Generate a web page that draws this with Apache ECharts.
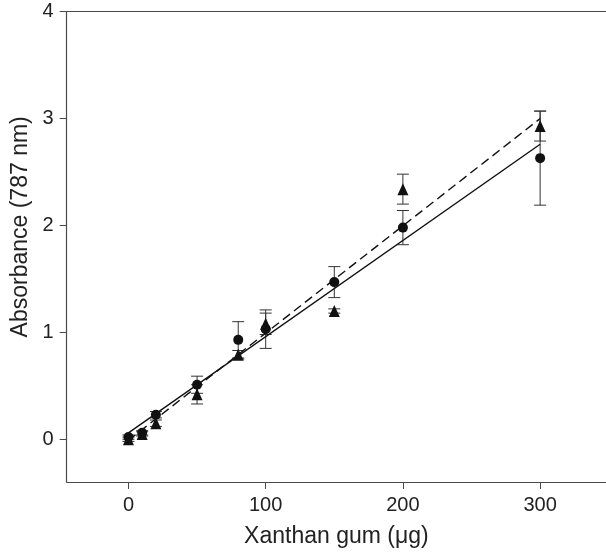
<!DOCTYPE html>
<html>
<head>
<meta charset="utf-8">
<script src="https://cdn.jsdelivr.net/npm/echarts@6/dist/echarts.min.js"></script>
<style>
html,body{margin:0;padding:0;background:#fff;}
#chart{width:606px;height:553px;}
</style>
</head>
<body>
<div id="chart"></div>
<script>
// ---- data ----
const xVals = [0, 10, 20, 50, 80, 100, 150, 200, 300];
const circleMean = [0.02, 0.06, 0.23, 0.51, 0.93, 1.03, 1.47, 1.98, 2.63];
const circleErr  = [0.02, 0.02, 0.03, 0.08, 0.17, 0.18, 0.145, 0.16, 0.44];
const triMean    = [0.00, 0.05, 0.15, 0.42, 0.79, 1.08, 1.20, 2.34, 2.93];
const triErr     = [0.02, 0.02, 0.03, 0.09, 0.04, 0.10, 0.02, 0.14, 0.14];
const fitX = [0, 300];
const solidFit = [0.06, 2.76];
const dashedFit = [-0.01, 3.0];
const xTicks = [0, 100, 200, 300];
const yTicks = [0, 1, 2, 3, 4];

const FONT = 'Liberation Sans, Arial, Helvetica, sans-serif';
const TXT = '#222';
const AX = '#4a4a4a';

function pts(xs, ys){ return xs.map((x,i)=>[x, ys[i]]); }
function errData(xs, m, e){ return xs.map((x,i)=>[x, m[i]-e[i], m[i]+e[i]]); }

function errRender(params, api){
  const x = api.value(0), lo = api.value(1), hi = api.value(2);
  const a = api.coord([x, lo]), b = api.coord([x, hi]);
  const cw = 6;
  const st = {stroke:'#333', lineWidth:1};
  return {type:'group', children:[
    {type:'line', shape:{x1:a[0], y1:a[1], x2:b[0], y2:b[1]}, style:st},
    {type:'line', shape:{x1:a[0]-cw, y1:a[1], x2:a[0]+cw, y2:a[1]}, style:st},
    {type:'line', shape:{x1:b[0]-cw, y1:b[1], x2:b[0]+cw, y2:b[1]}, style:st}
  ]};
}

const chart = echarts.init(document.getElementById('chart'), null, {renderer:'canvas'});
chart.setOption({
  animation:false,
  backgroundColor:'#fff',
  grid:{left:66.7, top:11.7, right:0, bottom:70.5, containLabel:false},
  xAxis:[{
    type:'value', min:-45, max:348, position:'bottom',
    name:'Xanthan gum (μg)', nameLocation:'middle', nameGap:43,
    nameTextStyle:{fontFamily:FONT, fontSize:23, color:TXT},
    axisLine:{show:true, onZero:false, lineStyle:{color:AX, width:1.2}},
    axisTick:{show:true, inside:false, length:7, customValues:xTicks, lineStyle:{color:AX, width:1}},
    axisLabel:{show:true, customValues:xTicks, margin:13, fontFamily:FONT, fontSize:20, color:TXT},
    splitLine:{show:false}
  },{
    type:'value', min:-45, max:348, position:'top',
    axisLine:{show:true, onZero:false, lineStyle:{color:AX, width:1.2}},
    axisTick:{show:false}, axisLabel:{show:false}, splitLine:{show:false}
  }],
  yAxis:{
    type:'value', min:-0.4, max:4,
    name:'Absorbance (787 nm)', nameLocation:'middle', nameGap:35,
    nameTextStyle:{fontFamily:FONT, fontSize:23, color:TXT, padding:[0,0,0,40]},
    axisLine:{show:true, onZero:false, lineStyle:{color:AX, width:1.2}},
    axisTick:{show:true, inside:false, length:7, customValues:yTicks, lineStyle:{color:AX, width:1}},
    axisLabel:{show:true, customValues:yTicks, margin:13, fontFamily:FONT, fontSize:20, color:TXT},
    splitLine:{show:false}
  },
  series:[
    {type:'custom', renderItem:errRender, data:errData(xVals, circleMean, circleErr), z:1, silent:true},
    {type:'custom', renderItem:errRender, data:errData(xVals, triMean, triErr), z:1, silent:true},
    {type:'line', data:pts(fitX, solidFit), showSymbol:false, symbol:'none', z:2,
     lineStyle:{color:'#111', width:1.4, type:'solid'}},
    {type:'line', data:pts(fitX, dashedFit), showSymbol:false, symbol:'none', z:2,
     lineStyle:{color:'#111', width:1.4, type:[9,5]}},
    {type:'scatter', data:pts(xVals, triMean), symbol:'triangle', symbolSize:[11,12], z:3,
     itemStyle:{color:'#111', opacity:1}},
    {type:'scatter', data:pts(xVals, circleMean), symbol:'circle', symbolSize:10, z:4,
     itemStyle:{color:'#111', opacity:1}}
  ]
});
</script>
</body>
</html>
